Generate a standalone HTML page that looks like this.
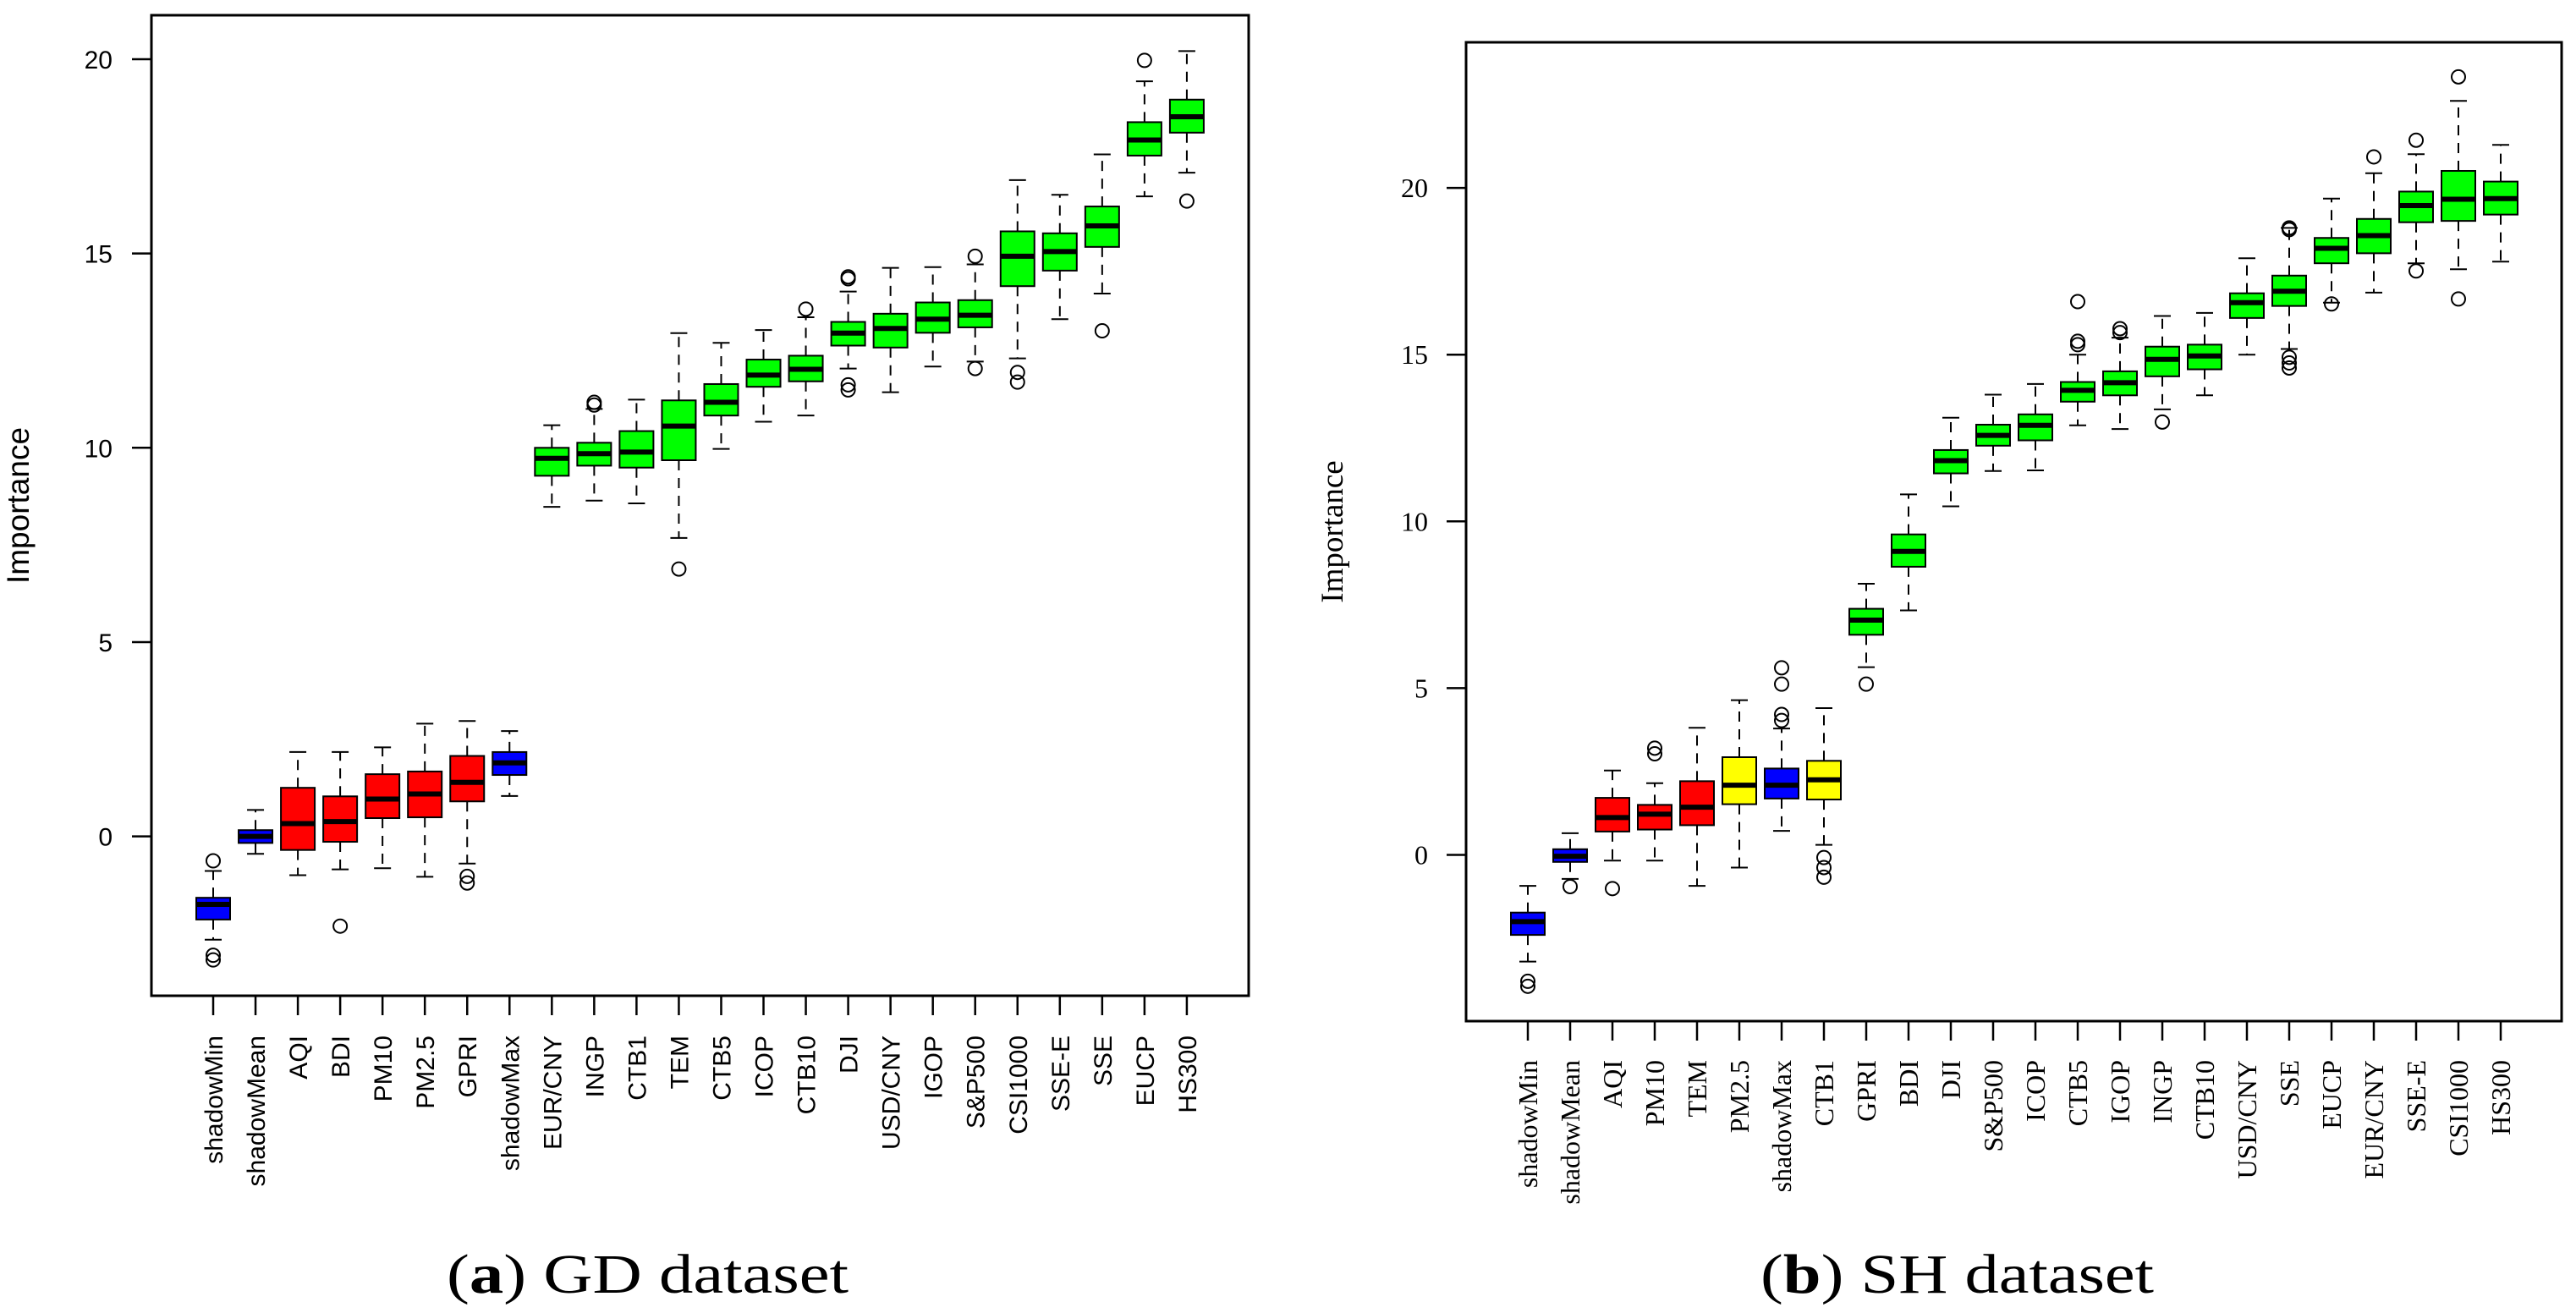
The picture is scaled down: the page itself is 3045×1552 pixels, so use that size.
<!DOCTYPE html>
<html><head><meta charset="utf-8"><style>
html,body{margin:0;padding:0;background:#fff;}
svg{display:block;}
</style></head><body>
<svg id="fig" width="3045" height="1552" xmlns="http://www.w3.org/2000/svg">
<rect width="3045" height="1552" fill="#fff"/>
<g id="chartA"></g>
<g id="chartB"></g>
<text x="528" y="1528" font-family="Liberation Serif, serif" font-size="66" textLength="475" lengthAdjust="spacingAndGlyphs">(<tspan font-weight="bold">a</tspan>) GD dataset</text>
<text x="2081" y="1528" font-family="Liberation Serif, serif" font-size="66" textLength="465" lengthAdjust="spacingAndGlyphs">(<tspan font-weight="bold">b</tspan>) SH dataset</text>
</svg>
<script>
// ---- GD dataset ----
const gdNames = ["shadowMin","shadowMean","AQI","BDI","PM10","PM2.5","GPRI","shadowMax","EUR/CNY","INGP","CTB1","TEM","CTB5","ICOP","CTB10","DJI","USD/CNY","IGOP","S&P500","CSI1000","SSE-E","SSE","EUCP","HS300"];
const gdColors = ["b","b","r","r","r","r","r","b","g","g","g","g","g","g","g","g","g","g","g","g","g","g","g","g"];
const gdMed = [-1.75,0,0.33,0.38,0.96,1.09,1.39,1.89,9.73,9.85,9.89,10.56,11.17,11.87,12.02,12.95,13.07,13.31,13.41,14.93,15.05,15.71,17.92,18.52];
const gdQ1 = [-2.14,-0.17,-0.35,-0.14,0.47,0.49,0.9,1.58,9.28,9.54,9.49,9.68,10.83,11.57,11.71,12.63,12.58,12.96,13.1,14.16,14.56,15.17,17.52,18.11];
const gdQ3 = [-1.58,0.16,1.25,1.03,1.6,1.67,2.07,2.17,10.0,10.13,10.43,11.22,11.64,12.27,12.37,13.24,13.45,13.74,13.8,15.57,15.52,16.21,18.38,18.96];
const gdLo = [-2.66,-0.45,-1.0,-0.85,-0.82,-1.04,-0.7,1.04,8.48,8.64,8.57,7.68,9.97,10.67,10.83,12.04,11.43,12.09,12.22,12.3,13.31,13.97,16.47,17.08];
const gdHi = [-0.89,0.68,2.17,2.17,2.29,2.9,2.97,2.71,10.58,11.0,11.24,12.95,12.7,13.03,13.36,14.02,14.63,14.65,14.72,16.89,16.51,17.55,19.43,20.21];
const gdOut = [[-0.63,-3.06,-3.18],[],[],[-2.31],[],[],[-1.03,-1.2],[],[],[11.17,11.1],[],[6.88],[],[],[13.57],[14.4,14.35,11.62,11.49],[],[],[14.93,12.04],[11.94,11.69],[],[13.01],[19.97],[16.35]];
const gdTicks = [0,5,10,15,20];

// ---- SH dataset ----
const shNames = ["shadowMin","shadowMean","AQI","PM10","TEM","PM2.5","shadowMax","CTB1","GPRI","BDI","DJI","S&P500","ICOP","CTB5","IGOP","INGP","CTB10","USD/CNY","SSE","EUCP","EUR/CNY","SSE-E","CSI1000","HS300"];
const shColors = ["b","b","r","r","r","y","b","y","g","g","g","g","g","g","g","g","g","g","g","g","g","g","g","g"];
const shMed = [-2.0,-0.04,1.12,1.22,1.43,2.09,2.09,2.25,7.04,9.1,11.82,12.58,12.88,13.93,14.16,14.86,14.96,16.56,16.9,18.19,18.57,19.47,19.66,19.68];
const shQ1 = [-2.4,-0.21,0.7,0.76,0.89,1.52,1.69,1.66,6.6,8.64,11.44,12.27,12.43,13.59,13.78,14.35,14.56,16.1,16.46,17.74,18.04,18.97,19.01,19.2];
const shQ3 = [-1.73,0.17,1.71,1.5,2.21,2.93,2.59,2.82,7.38,9.61,12.14,12.9,13.21,14.18,14.5,15.24,15.3,16.84,17.37,18.5,19.07,19.89,20.51,20.19];
const shLo = [-3.2,-0.72,-0.17,-0.17,-0.93,-0.38,0.72,0.3,5.63,7.33,10.45,11.51,11.53,12.88,12.77,13.36,13.78,15.0,15.17,16.56,16.86,17.74,17.56,17.79];
const shHi = [-0.93,0.65,2.53,2.15,3.81,4.64,3.79,4.4,8.13,10.81,13.11,13.8,14.12,15.0,15.51,16.16,16.25,17.89,18.8,19.68,20.44,21.01,22.61,21.29];
const shOut = [[-3.79,-3.94],[-0.95],[-1.01],[3.2,3.03],[],[],[5.61,5.12,4.21,4.03],[-0.08,-0.38,-0.67],[5.12],[],[],[],[],[16.59,15.4,15.3],[15.78,15.66],[12.98],[],[],[18.8,18.75,14.92,14.75,14.6],[16.52],[20.93],[21.43,17.51],[23.33,16.67],[]];
const shTicks = [0,5,10,15,20];

const fills = {b:"#0000ff", r:"#ff0000", g:"#00ff00", y:"#ffff00"};
const NS = "http://www.w3.org/2000/svg";
function mk(parent, tag, attrs, text){
  const e = document.createElementNS(NS, tag);
  for (const k in attrs) e.setAttribute(k, attrs[k]);
  if (text !== undefined) e.textContent = text;
  parent.appendChild(e);
  return e;
}

function draw(g, cfg, names, colors, med, q1, q3, lo, hi, outs, ticks){
  const yS = v => cfg.y0 - v * cfg.pu;
  const xS = i => cfg.x0 + i * cfg.step;
  const frame = mk(g, "rect", {x:cfg.L, y:cfg.T, width:cfg.R-cfg.L, height:cfg.B-cfg.T, fill:"none", stroke:"#000", "stroke-width":3});
  
  
  ticks.forEach(t => {
    const tl = mk(g, "line", {x1:cfg.L-23, x2:cfg.L, y1:yS(t), y2:yS(t), stroke:"#000", "stroke-width":2.5});
    
    
    const tx = mk(g, "text", {x:cfg.L-cfg.labGap, y:yS(t)+11, "text-anchor":"end", "font-family":cfg.font, "font-size":cfg.fs}, String(t));
    
    
  });
  const yt = mk(g, "text", {x:0, y:0, transform:`translate(${cfg.ytX},${(cfg.T+cfg.B)/2}) rotate(-90)`, "text-anchor":"middle", "font-family":cfg.font, "font-size":cfg.yfs}, "Importance");
  
  
  names.forEach((n, i) => {
    const x = xS(i), hw = 20;
    const grp = mk(g, "g", {});
    
    
    const xt = mk(grp, "line", {x1:x, x2:x, y1:cfg.B, y2:cfg.B+23, stroke:"#000", "stroke-width":2.5});
    
    
    const lab = mk(grp, "text", {x:0, y:0, transform:`translate(${x+11},${cfg.labY}) rotate(-90)`, "text-anchor":"end", "font-family":cfg.font, "font-size":cfg.fs}, n);
    
    
    const w1 = mk(grp, "line", {x1:x, x2:x, y1:yS(q3[i]), y2:yS(hi[i]), stroke:"#000", "stroke-width":2, "stroke-dasharray":"12,9"});
    
    
    const w2 = mk(grp, "line", {x1:x, x2:x, y1:yS(q1[i]), y2:yS(lo[i]), stroke:"#000", "stroke-width":2, "stroke-dasharray":"12,9"});
    
    
    const c1 = mk(grp, "line", {x1:x-10, x2:x+10, y1:yS(hi[i]), y2:yS(hi[i]), stroke:"#000", "stroke-width":2});
    
    
    const c2 = mk(grp, "line", {x1:x-10, x2:x+10, y1:yS(lo[i]), y2:yS(lo[i]), stroke:"#000", "stroke-width":2});
    
    
    const bx = mk(grp, "rect", {x:x-hw, y:yS(q3[i]), width:2*hw, height:yS(q1[i])-yS(q3[i]), fill:fills[colors[i]], stroke:"#000", "stroke-width":2});
    
    
    const md = mk(grp, "line", {x1:x-hw, x2:x+hw, y1:yS(med[i]), y2:yS(med[i]), stroke:"#000", "stroke-width":6});
    
    
    outs[i].forEach(o => {
      const c = mk(grp, "circle", {cx:x, cy:yS(o), r:8, fill:"none", stroke:"#000", "stroke-width":2});
      
      
    });
  });
}

draw(document.getElementById("chartA"),
  {L:179, R:1476, T:18, B:1177, x0:252, step:50.04, y0:988.6, pu:45.93, font:"Liberation Sans, sans-serif", fs:30, yfs:37, labGap:46, labY:1224, ytX:34},
  gdNames, gdColors, gdMed, gdQ1, gdQ3, gdLo, gdHi, gdOut, gdTicks);
draw(document.getElementById("chartB"),
  {L:1733, R:3028, T:50, B:1207, x0:1806, step:50.0, y0:1010.5, pu:39.42, font:"Liberation Serif, serif", fs:32, yfs:37, labGap:45, labY:1253, ytX:1587},
  shNames, shColors, shMed, shQ1, shQ3, shLo, shHi, shOut, shTicks);
</script>
</body></html>
